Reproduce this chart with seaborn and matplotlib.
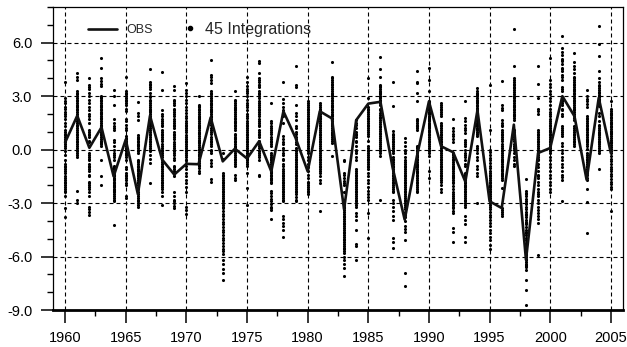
import numpy as np
import pandas as pd
import matplotlib
matplotlib.use("Agg")
import matplotlib.pyplot as plt
from matplotlib.ticker import MultipleLocator, FixedLocator
from matplotlib.lines import Line2D
import seaborn as sns

years = list(range(1960, 2006))
obs = [0.4, 1.9, 0.1, 1.25, -1.5, 0.56, -2.5, 1.9, -0.56, -1.4,
       -0.8, -0.82, 1.8, -0.66, 0.05, -0.5, 0.47, -1.22, 2.15, 0.66,
       -1.22, 2.15, 1.75, -3.35, 1.65, 2.58, 2.68, -1.0, -3.93, -0.4,
       2.7, 0.19, -0.15, -1.8, 2.2, -2.9, -3.28, 1.4, -6.18, -0.19,
       0.09, 3.0, 1.87, -1.69, 2.9, -0.19]

m1960 = [3.8, 2.9, 2.7, 2.6, 2.4, 2.3, 2.1, 2.0, 1.9, 1.7, 1.5, 1.3, 1.1, 1.0, 0.9, 0.8, 0.7, 0.6, 0.5, 0.4, 0.3, 0.2, 0.1, -0.1, -0.3, -0.6, -0.8, -0.9, -1.0, -1.1, -1.2, -1.3, -1.5, -1.6, -1.7, -1.8, -1.9, -2.0, -2.1, -2.2, -2.3, -2.4, -2.6, -3.3, -3.8]
m1961 = [4.3, 4.1, 3.9, 3.3, 3.2, 3.1, 3.0, 2.9, 2.8, 2.7, 2.6, 2.5, 2.4, 2.3, 2.2, 2.1, 2.0, 1.9, 1.8, 1.7, 1.6, 1.5, 1.4, 1.3, 1.2, 1.1, 1.0, 0.9, 0.8, 0.7, 0.6, 0.5, 0.4, 0.3, 0.2, 0.1, 0.0, -0.1, -0.2, -0.3, -0.4, -2.3, -2.8, -3.0, 2.45]
m1962 = [4.0, 3.6, 3.4, 3.2, 3.0, 2.8, 2.4, 2.2, 2.0, 1.9, 1.7, 1.5, 1.1, 1.0, 0.8, 0.7, 0.5, 0.4, 0.2, -0.2, -0.3, -0.5, -0.6, -0.8, -0.9, -1.1, -1.2, -1.4, -1.5, -1.8, -1.9, -2.1, -2.2, -2.4, -2.6, -3.2, -3.35, -3.5, -3.65, 3.5, 2.6, 0.9, -0.4, -1.0, -2.0]
m1963 = [5.15, 4.6, 4.0, 3.85, 3.7, 3.55, 3.0, 2.9, 2.8, 2.7, 2.6, 2.5, 2.4, 2.3, 2.2, 2.1, 2.0, 1.9, 1.8, 1.7, 1.6, 1.5, 1.4, 1.3, 1.2, 1.1, 1.0, 0.9, 0.8, 0.7, 0.6, 0.5, 0.4, 0.3, 0.2, -0.56, -1.5, -1.97, 2.95, 2.45, 2.05, 1.75, 1.35, 0.85, 0.35]
m1964 = [3.35, 3.0, 2.5, 1.7, 1.5, 1.3, 1.1, 0.56, 0.4, 0.2, 0.0, -0.2, -0.4, -0.56, -0.94, -1.0, -1.1, -1.2, -1.3, -1.4, -1.5, -1.6, -1.7, -1.8, -1.9, -2.0, -2.1, -2.2, -2.3, -2.4, -2.5, -2.6, -2.7, -2.8, -2.9, -4.25, -1.05, -1.25, -1.45, -1.65, -1.85, -2.05, -2.25, 1.2, -0.3]
m1965 = [4.08, 3.3, 3.2, 3.0, 2.9, 2.7, 2.6, 2.5, 2.3, 2.15, 1.7, 1.6, 1.4, 1.2, 1.1, 0.75, 0.6, 0.5, 0.4, 0.3, 0.2, 0.1, 0.0, -0.1, -0.2, -0.3, -0.4, -0.56, -1.0, -1.1, -1.3, -1.4, -1.6, -1.7, -1.9, -2.0, -2.6, -2.7, 3.1, 2.8, 0.65, 0.35, 0.05, -0.25, -1.5]
m1966 = [2.65, 2.06, 1.9, 1.68, 0.84, 0.7, 0.6, 0.5, 0.4, 0.3, 0.2, 0.1, 0.0, -0.1, -0.2, -0.56, -0.7, -0.8, -0.9, -1.0, -1.1, -1.2, -1.3, -1.4, -1.5, -1.6, -1.7, -1.8, -1.9, -2.0, -2.4, -2.5, -2.6, -2.7, -2.8, -2.9, -3.0, -3.1, -3.2, 0.65, 0.25, -0.65, -1.15, -1.45, -2.2]
m1967 = [4.55, 3.8, 3.7, 3.5, 3.4, 3.2, 3.0, 2.8, 2.7, 2.6, 2.5, 2.4, 2.3, 2.2, 2.1, 2.0, 1.9, 1.8, 1.7, 1.6, 1.5, 1.4, 1.3, 1.2, 1.1, 1.0, 0.9, 0.8, 0.7, 0.6, 0.5, 0.4, 0.3, 0.2, 0.1, 0.0, -0.1, -0.3, -0.5, -0.75, -1.9, 3.6, 2.95, 2.15, 1.45]
m1968 = [4.36, 3.37, 2.2, 2.0, 1.9, 1.7, 1.6, 1.4, 1.3, 1.1, 1.0, 0.9, 0.7, 0.6, 0.5, 0.3, 0.2, 0.1, -0.1, -0.2, -0.56, -0.7, -0.8, -0.9, -1.0, -1.1, -1.2, -1.3, -1.4, -1.5, -1.6, -1.7, -1.8, -1.9, -2.0, -2.2, -2.4, -2.6, -3.13, 1.5, 0.8, 0.0, -0.3, -0.4, -2.1]
m1969 = [3.56, 3.37, 2.8, 2.6, 2.5, 2.3, 2.2, 2.0, 1.9, 1.7, 1.6, 1.5, 1.3, 1.2, 1.0, 0.9, 0.7, 0.6, 0.4, 0.3, 0.1, 0.0, -0.2, -0.3, -0.45, -0.56, -0.94, -1.1, -1.2, -1.35, -1.5, -2.4, -2.6, -2.8, -3.0, -3.15, -3.3, 2.7, 2.1, 1.4, 0.8, 0.2, -0.1, -1.0, -2.9]
m1970 = [3.74, 3.37, 3.2, 3.0, 2.8, 2.6, 2.4, 2.2, 2.06, 1.9, 1.8, 1.6, 1.5, 1.4, 1.2, 1.1, 1.0, 0.8, 0.7, 0.6, 0.5, 0.3, 0.2, 0.1, 0.0, -0.1, -0.2, -0.3, -0.4, -0.56, -0.75, -0.9, -1.1, -1.3, -1.5, -1.7, -1.9, -2.1, -2.4, -3.2, -3.4, -3.6, 1.3, 0.4, -0.6]
m1971 = [3.0, 2.5, 2.4, 2.3, 2.2, 2.1, 2.0, 1.9, 1.8, 1.7, 1.6, 1.5, 1.4, 1.3, 1.2, 1.1, 1.0, 0.94, 0.85, 0.75, 0.65, 0.55, 0.45, 0.35, 0.25, 0.15, 0.05, -0.05, -0.15, -0.25, -0.35, -0.45, -0.55, -0.65, -0.75, -0.85, -0.94, -1.05, -1.2, -1.3, 2.45, 1.85, 1.25, 0.5, -0.3]
m1972 = [5.05, 4.2, 4.05, 3.9, 3.74, 3.3, 3.2, 3.1, 2.9, 2.8, 2.7, 2.6, 2.5, 2.4, 2.3, 2.2, 2.1, 2.0, 1.9, 1.7, 1.5, 1.4, 1.2, 1.0, 0.9, 0.7, 0.5, 0.4, 0.2, 0.0, -0.2, -0.56, -0.75, -0.94, -1.65, -1.8, 3.0, 2.55, 2.15, 1.6, 1.1, 0.6, 0.3, -0.1, 1.85]
m1973 = [-0.2, -0.5, -1.3, -1.4, -1.5, -1.6, -1.7, -1.8, -1.9, -2.0, -2.1, -2.2, -2.3, -2.4, -2.5, -2.6, -2.7, -2.8, -2.9, -3.0, -3.1, -3.2, -3.3, -3.45, -3.6, -3.75, -3.9, -4.05, -4.2, -4.35, -4.5, -4.65, -4.8, -4.95, -5.1, -5.25, -5.4, -5.55, -5.7, -5.85, -6.2, -6.4, -6.7, -6.9, -7.3]
m1974 = [3.3, 2.8, 2.7, 2.6, 2.5, 2.4, 2.3, 2.2, 2.1, 2.0, 1.9, 1.8, 1.7, 1.6, 1.5, 1.4, 1.3, 1.2, 1.1, 0.9, 0.8, 0.7, 0.6, 0.5, 0.4, 0.3, 0.2, 0.1, 0.0, -0.1, -0.2, -0.3, -0.4, -0.5, -0.6, -0.7, -0.8, -0.94, -1.4, -1.6, -1.7, 2.35, 1.55, 0.65, 0.15]
m1975 = [4.1, 3.8, 3.56, 3.4, 3.2, 3.0, 2.8, 2.6, 2.4, 2.2, 2.0, 1.8, 1.6, 1.4, 1.3, 1.2, 1.1, 1.0, 0.9, 0.8, 0.7, 0.6, 0.5, 0.4, 0.3, 0.2, 0.1, 0.0, -0.1, -0.2, -0.3, -0.4, -0.5, -0.6, -0.7, -0.8, -0.94, -1.3, -2.15, -3.1, 3.3, 2.5, 1.9, 1.5, -0.45]
m1976 = [4.96, 4.85, 4.3, 3.9, 3.8, 3.6, 3.5, 3.3, 3.2, 3.0, 2.9, 2.7, 2.6, 2.4, 2.3, 2.1, 2.0, 1.9, 1.7, 1.6, 1.4, 1.3, 1.1, 1.0, 0.8, 0.7, 0.5, 0.4, 0.2, 0.1, -0.1, -0.2, -0.4, -0.56, -1.4, -1.5, 3.65, 3.1, 2.5, 2.2, 1.5, 0.9, 0.3, -0.3, 4.0]
m1977 = [2.6, 1.6, 1.5, 1.3, 1.2, 1.0, 0.9, 0.7, 0.6, 0.4, 0.3, 0.2, -0.2, -0.3, -0.4, -0.5, -0.6, -0.7, -0.8, -0.9, -1.0, -1.1, -1.2, -1.3, -1.4, -1.5, -1.6, -1.7, -1.8, -1.9, -2.3, -2.45, -2.6, -2.75, -2.9, -3.05, -3.2, -3.3, -3.4, -3.9, 1.1, 0.5, -0.55, -1.25, -1.65]
m1978 = [3.8, 2.84, 2.6, 2.4, 2.2, 2.0, 1.9, 0.75, 0.6, 0.4, 0.3, 0.1, 0.0, -0.2, -0.3, -0.5, -0.6, -0.8, -0.9, -1.1, -1.2, -1.3, -1.4, -1.5, -1.6, -1.7, -1.8, -1.9, -2.0, -2.1, -2.2, -2.3, -2.4, -2.5, -2.6, -2.7, -2.8, -2.9, -3.75, -3.9, -4.1, -4.3, -4.5, -4.9, 1.5]
m1979 = [4.7, 3.65, 3.5, 2.5, 2.06, 1.9, 1.68, 1.3, 1.2, 1.0, 0.9, 0.7, 0.6, 0.4, 0.3, 0.1, 0.0, -0.1, -0.2, -0.3, -0.4, -0.5, -0.6, -0.7, -0.8, -0.9, -1.0, -1.1, -1.2, -1.3, -1.4, -1.5, -1.6, -1.7, -1.8, -1.9, -2.0, -2.1, -2.2, -2.3, -2.4, -2.5, -2.65, -2.8, -2.9]
m1980 = [2.7, 2.6, 2.5, 2.4, 2.3, 2.2, 2.1, 2.0, 1.9, 1.8, 1.7, 1.6, 1.5, 1.4, 1.3, 1.2, 1.1, 1.0, 0.94, 0.8, 0.7, 0.6, 0.5, 0.4, 0.3, 0.2, 0.1, 0.0, -0.1, -0.2, -0.4, -0.6, -0.8, -1.0, -1.2, -1.4, -1.6, -1.8, -1.9, -2.0, -2.1, -2.2, -2.3, -2.4, -2.5]
m1981 = [2.6, 2.5, 2.4, 2.3, 2.2, 2.1, 2.0, 1.9, 1.8, 1.7, 1.6, 1.5, 1.4, 1.3, 1.2, 1.1, 1.0, 0.9, 0.8, 0.7, 0.6, 0.5, 0.4, 0.3, 0.2, 0.1, 0.0, -0.1, -0.2, -0.3, -0.4, -0.5, -0.6, -0.7, -0.8, -0.9, -1.0, -1.1, -1.2, -1.3, -1.5, -1.7, -1.85, -3.46, 1.75]
m1982 = [4.9, 4.1, 4.0, 3.9, 3.8, 3.7, 3.6, 3.5, 3.4, 3.3, 3.2, 3.1, 3.0, 2.9, 2.8, 2.7, 2.6, 2.5, 2.4, 2.3, 2.2, 2.1, 2.0, 1.9, 1.8, 1.7, 1.6, 1.5, 1.4, 1.3, 1.2, 1.1, 1.0, 0.9, 0.8, 0.7, 0.6, 0.5, 0.37, -0.37, 3.05, 2.45, 1.95, 1.45, 0.95]
m1983 = [-0.56, -0.66, -1.3, -1.45, -1.6, -1.75, -1.9, -2.8, -2.9, -3.0, -3.1, -3.2, -3.3, -3.4, -3.5, -3.6, -3.7, -3.8, -3.9, -4.0, -4.1, -4.2, -4.3, -4.4, -4.5, -4.6, -4.7, -4.8, -4.9, -5.0, -5.1, -5.2, -5.3, -5.4, -5.5, -5.6, -5.7, -5.8, -6.0, -6.2, -6.4, -6.65, -7.1, -2.4, -2.0]
m1984 = [1.68, 1.5, 1.4, 1.2, 1.0, 0.9, 0.7, 0.5, 0.4, 0.2, 0.0, -0.2, -0.4, -0.56, -1.1, -1.2, -1.3, -1.4, -1.5, -1.6, -1.7, -1.8, -1.9, -2.0, -2.1, -2.2, -2.3, -2.4, -2.5, -2.6, -2.7, -2.8, -2.9, -3.0, -3.1, -3.2, -3.56, -3.75, -3.93, -4.5, -5.3, -5.43, -6.2, 0.8, -0.1]
m1985 = [4.0, 2.9, 2.4, 2.3, 2.2, 2.1, 2.0, 1.9, 1.8, 1.7, 1.6, 1.5, 1.4, 1.3, 1.2, 1.1, 1.0, 0.9, 0.75, 0.2, 0.1, 0.0, -0.1, -0.2, -0.3, -0.4, -0.5, -0.6, -0.7, -0.8, -0.9, -1.0, -1.1, -1.5, -1.7, -1.9, -2.1, -2.3, -2.5, -2.65, -2.8, -3.56, -4.96, 0.5, -1.3]
m1986 = [5.2, 4.5, 4.1, 3.65, 3.5, 3.4, 3.3, 3.2, 3.1, 3.0, 2.9, 2.8, 2.7, 2.6, 2.06, 1.95, 1.85, 1.75, 1.65, 1.55, 1.45, 1.35, 1.25, 1.15, 1.05, 0.95, 0.85, 0.75, 0.65, 0.56, 0.3, 0.2, 0.1, 0.0, -0.1, -0.2, -0.37, -2.8, 2.5, 2.3, 2.2, 3.55, 3.25, 2.95, 0.45]
m1987 = [3.8, 2.43, 1.03, 0.9, 0.8, 0.7, 0.6, 0.5, 0.4, 0.3, 0.2, 0.1, 0.0, -0.2, -0.4, -0.5, -0.6, -0.7, -0.8, -0.9, -1.0, -1.1, -1.2, -1.3, -1.4, -1.5, -1.6, -1.7, -1.8, -1.9, -2.0, -2.1, -2.2, -2.4, -2.8, -3.0, -3.2, -3.45, -3.7, -3.93, -4.96, -5.2, -5.5, -0.1, -2.3]
m1988 = [0.66, 0.4, 0.2, 0.0, -0.2, -0.4, -0.56, -0.7, -0.8, -0.9, -1.0, -1.1, -1.2, -1.3, -1.4, -1.5, -1.6, -1.7, -1.8, -1.9, -2.0, -2.1, -2.2, -2.3, -2.4, -2.5, -2.6, -2.7, -2.8, -2.9, -3.0, -3.1, -3.2, -3.35, -3.5, -3.65, -3.8, -4.0, -4.3, -4.45, -4.6, -5.1, -6.9, -7.68, -0.1]
m1989 = [4.4, 3.8, 3.2, 2.7, 1.7, 1.6, 1.5, 1.4, 1.3, 1.2, 1.1, 0.2, 0.1, 0.0, -0.1, -0.2, -0.3, -0.4, -0.5, -0.6, -0.7, -0.8, -0.9, -1.0, -1.1, -1.2, -1.3, -1.4, -1.5, -1.6, -1.7, -1.8, -1.9, -2.0, -2.1, -2.2, -2.3, -2.4, 3.75, 1.65, 1.35, 0.15, -0.35, -0.85, -1.25]
m1990 = [4.6, 3.9, 3.3, 2.7, 2.6, 2.5, 2.4, 2.3, 2.2, 2.1, 2.0, 1.9, 1.8, 1.7, 1.6, 1.5, 1.4, 1.3, 1.2, 1.1, 1.0, 0.9, 0.8, 0.7, 0.6, 0.5, 0.4, 0.3, 0.2, 0.1, 0.0, -0.1, -0.2, -0.37, -1.2, -1.6, 2.65, 2.45, 2.25, 2.05, 1.85, 1.65, 1.45, 1.25, 1.05]
m1991 = [2.6, 2.5, 2.4, 2.3, 2.2, 2.1, 2.0, 1.9, 1.5, 1.4, 1.3, 1.2, 1.1, 1.0, 0.9, 0.8, 0.7, 0.6, 0.5, 0.4, 0.3, 0.2, 0.1, 0.0, -0.1, -0.2, -0.3, -0.4, -0.5, -0.6, -0.7, -0.8, -0.9, -1.0, -1.1, -1.2, -1.3, -1.4, -1.5, -1.6, -1.7, -1.8, -2.0, -2.2, -2.4]
m1992 = [1.7, 1.2, 1.05, 0.9, 0.75, 0.6, 0.4, -0.2, -0.3, -0.4, -0.5, -0.6, -0.7, -0.8, -0.9, -1.0, -1.1, -1.2, -1.3, -1.4, -1.5, -1.6, -1.7, -1.8, -1.9, -2.06, -2.4, -2.5, -2.6, -2.7, -2.8, -2.9, -3.0, -3.1, -3.2, -3.3, -3.45, -3.56, -4.4, -4.6, -5.2, -0.25, -1.05, -1.55, -2.2]
m1993 = [2.7, 1.8, 1.6, 1.4, 1.2, 0.94, 0.56, 0.4, 0.2, 0.0, -0.2, -0.4, -0.6, -0.8, -0.94, -1.3, -1.4, -1.5, -1.6, -1.7, -1.8, -1.9, -2.0, -2.1, -2.2, -2.3, -2.4, -2.5, -2.6, -2.7, -2.8, -2.9, -3.0, -3.1, -3.2, -3.75, -3.93, -4.2, -4.9, -5.2, 1.1, 0.3, -0.3, -1.45, -2.05]
m1994 = [3.46, 3.3, 3.2, 3.1, 3.0, 2.9, 2.8, 2.7, 2.6, 2.5, 2.43, 2.35, 2.25, 2.15, 2.05, 1.95, 1.85, 1.75, 1.6, 1.5, 1.4, 1.3, 1.2, 1.1, 1.0, 0.9, 0.75, 0.2, 0.0, -0.2, -0.4, -0.56, -0.94, -1.1, -1.3, -1.5, -3.0, 3.05, 2.65, 2.2, 1.9, 1.45, 1.15, 0.85, 0.1]
m1995 = [3.65, 1.12, 0.0, -0.15, -0.3, -0.45, -0.6, -0.75, -0.9, -1.05, -1.2, -1.3, -1.4, -1.5, -1.6, -1.7, -1.8, -1.9, -2.0, -2.1, -2.2, -2.3, -2.4, -2.5, -2.6, -2.7, -2.8, -2.9, -3.0, -3.1, -3.2, -3.35, -3.5, -3.65, -3.8, -3.95, -4.1, -4.3, -4.5, -4.7, -4.9, -5.1, -5.35, -5.6, -2.05]
m1996 = [3.87, 2.5, 2.35, 2.2, 1.68, 1.5, 1.4, 1.3, 1.1, 1.0, 0.9, 0.7, 0.6, 0.5, 0.3, 0.2, 0.1, -0.1, -0.2, -0.3, -0.4, -0.5, -0.6, -0.7, -0.8, -0.9, -1.0, -1.1, -1.2, -1.3, -1.4, -1.5, -1.6, -1.7, -2.15, -3.3, -3.4, -3.5, -3.6, -3.75, 0.8, 0.0, -0.65, -1.15, -1.35]
m1997 = [6.74, 4.7, 4.0, 3.9, 3.8, 3.7, 3.6, 3.5, 3.37, 3.25, 3.1, 3.0, 2.9, 2.8, 2.7, 2.6, 2.5, 2.4, 2.3, 2.2, 2.1, 2.0, 1.9, 1.8, 1.68, 1.1, 1.0, 0.9, 0.8, 0.6, 0.5, 0.3, 0.2, 0.0, -0.2, -0.4, -0.6, -0.8, -0.94, 3.45, 2.95, 2.45, 1.95, 0.7, 0.1]
m1998 = [-1.65, -2.3, -2.45, -2.6, -2.75, -2.9, -3.05, -3.2, -3.35, -3.5, -3.65, -3.8, -3.93, -4.05, -4.2, -4.35, -4.5, -4.65, -4.8, -4.95, -5.1, -5.25, -5.4, -5.55, -5.7, -5.85, -6.0, -6.15, -6.3, -6.45, -6.6, -6.75, -7.3, -7.9, -8.7, -2.5, -3.0, -3.6, -4.1, -4.7, -5.3, -5.9, -6.2, -6.4, -6.55]
m1999 = [4.7, 3.7, 2.9, 2.3, 2.15, 2.0, 1.1, 1.0, 0.9, 0.8, 0.7, 0.6, 0.5, 0.4, 0.3, 0.2, 0.1, 0.0, -0.1, -0.2, -0.3, -0.4, -0.6, -0.8, -1.0, -1.2, -1.4, -1.6, -1.8, -2.0, -2.2, -2.4, -2.6, -2.8, -3.0, -3.2, -3.4, -3.56, -3.75, -3.9, -4.1, -5.9, -0.5, -1.5, -2.5]
m2000 = [5.15, 3.9, 3.7, 3.5, 3.3, 3.1, 2.9, 2.7, 2.5, 2.3, 2.1, 1.9, 1.7, 1.6, 1.5, 1.4, 1.3, 1.2, 1.1, 1.0, 0.9, 0.8, 0.7, 0.6, 0.5, 0.4, 0.3, 0.2, 0.1, 0.0, -0.1, -0.2, -0.4, -0.6, -0.8, -1.0, -1.2, -1.4, -1.6, -1.8, -2.0, -2.2, -2.4, 2.0, 1.05]
m2001 = [6.4, 5.7, 5.5, 5.3, 5.1, 4.95, 4.8, 4.6, 4.4, 4.2, 4.05, 3.9, 3.5, 3.4, 3.3, 2.9, 2.8, 2.6, 2.5, 2.3, 2.2, 2.0, 1.9, 1.3, 1.2, 1.0, 0.9, 0.75, 0.37, 0.2, 0.0, -0.2, -0.4, -0.6, -0.8, -1.0, -1.2, -1.4, -1.55, -1.7, -2.9, 5.0, 4.5, 2.7, 1.1]
m2002 = [5.4, 4.9, 4.7, 4.5, 4.3, 4.1, 4.0, 3.9, 3.8, 3.7, 3.6, 3.5, 3.4, 3.3, 3.2, 3.1, 3.0, 2.9, 2.8, 2.7, 2.6, 2.5, 2.4, 2.3, 2.2, 2.1, 2.0, 1.9, 1.8, 1.68, 1.3, 1.2, 1.1, 1.0, 0.9, 0.8, 0.7, 0.6, 0.5, 0.4, 0.3, 0.2, 2.25, 2.75, 3.35]
m2003 = [3.37, 3.0, 2.85, 2.7, 2.55, 2.4, 1.9, 1.8, 1.7, 1.6, 1.5, 1.4, 1.3, 1.2, 1.1, 1.0, 0.9, 0.8, 0.7, 0.6, 0.5, 0.4, 0.3, 0.2, -0.2, -0.3, -0.4, -0.5, -0.6, -0.7, -0.8, -0.9, -1.0, -1.1, -1.2, -1.3, -1.45, -1.6, -1.7, -2.2, -2.96, -4.7, 0.05, 1.15, 0.55]
m2004 = [6.96, 5.95, 5.24, 4.4, 3.8, 3.56, 3.45, 3.35, 3.25, 3.15, 3.05, 2.95, 2.85, 2.75, 2.65, 2.55, 2.43, 2.06, 1.3, 1.2, 1.1, 1.0, 0.9, 0.8, 0.7, 0.6, 0.5, 0.4, 0.3, 0.2, 0.1, 0.0, -0.1, -0.2, -1.1, 3.0, 2.8, 2.6, 1.9, 1.6, 1.4, 0.95, 0.45, 4.0, 3.6]
m2005 = [2.7, 2.25, 2.15, 2.05, 1.95, 1.85, 1.75, 1.65, 1.55, 1.45, 1.35, 1.25, 1.15, 1.05, 0.95, 0.85, 0.75, 0.65, 0.55, 0.45, 0.35, 0.25, 0.15, 0.05, -0.1, -0.2, -0.35, -0.5, -0.65, -0.8, -0.95, -1.1, -1.2, -1.35, -1.5, -1.65, -1.8, -1.95, -2.1, -2.2, -3.46, 2.0, 1.5, 1.0, 0.4]

members = [m1960, m1961, m1962, m1963, m1964, m1965, m1966, m1967, m1968, m1969,
           m1970, m1971, m1972, m1973, m1974, m1975, m1976, m1977, m1978, m1979,
           m1980, m1981, m1982, m1983, m1984, m1985, m1986, m1987, m1988, m1989,
           m1990, m1991, m1992, m1993, m1994, m1995, m1996, m1997, m1998, m1999,
           m2000, m2001, m2002, m2003, m2004, m2005]

ytick_vals = [-9, -6, -3, 0, 3, 6]
ytick_labels = ["-9.0", "-6.0", "-3.0", "0.0", "3.0", "6.0"]
xtick_vals = [1960, 1965, 1970, 1975, 1980, 1985, 1990, 1995, 2000, 2005]

ens_df = pd.DataFrame({
    "year": [y for y, vals in zip(years, members) for _ in vals],
    "value": [v for vals in members for v in vals],
})
obs_df = pd.DataFrame({"year": years, "value": obs})

sns.set_style("white")
plt.rcParams["font.family"] = ["Liberation Sans", "DejaVu Sans"]

fig = plt.figure(figsize=(6.27, 3.47), dpi=100)
ax = fig.add_axes([0.0845, 0.1066, 0.9091, 0.8732])

sns.scatterplot(data=ens_df, x="year", y="value", ax=ax, color="black", s=5,
                linewidth=0, zorder=3, legend=False)
sns.lineplot(data=obs_df, x="year", y="value", ax=ax, color="#111111", lw=1.9,
             zorder=4, legend=False)

ax.set_xlim(1959, 2006)
ax.set_ylim(-9, 8)
ax.set_xlabel("")
ax.set_ylabel("")

ax.yaxis.set_major_locator(FixedLocator(ytick_vals))
ax.set_yticklabels(ytick_labels)
ax.yaxis.set_minor_locator(MultipleLocator(1))
ax.xaxis.set_major_locator(FixedLocator(xtick_vals))
ax.set_xticklabels([str(v) for v in xtick_vals])
ax.xaxis.set_minor_locator(MultipleLocator(2.5))

ax.tick_params(axis="both", which="major", direction="out", length=9, width=1.1,
               labelsize=10.5, pad=6, color="black", labelcolor="black")
ax.tick_params(axis="both", which="minor", direction="out", length=4.5, width=1.0, color="black")
ax.tick_params(left=True, bottom=True, top=False, right=False, which="both")

for s in ["top", "right", "left"]:
    ax.spines[s].set_visible(True)
    ax.spines[s].set_color("black")
    ax.spines[s].set_linewidth(0.9)
ax.spines["bottom"].set_color("black")
ax.spines["bottom"].set_linewidth(2.0)

ax.grid(True, which="major", axis="both", color="black", linestyle=(0, (3.6, 2.7)), linewidth=0.8)
ax.set_axisbelow(True)

h_obs = Line2D([], [], color="#111111", lw=1.9)
h_ens = Line2D([], [], color="black", marker="o", markersize=3, linestyle="none")
leg1 = ax.legend([h_obs], ["OBS"], loc="center left", bbox_to_anchor=(0.061, 0.924),
                 frameon=False, fontsize=9, handlelength=2.3, handletextpad=0.75,
                 borderpad=0, borderaxespad=0)
ax.add_artist(leg1)
leg2 = ax.legend([h_ens], ["45 Integrations"], loc="center left", bbox_to_anchor=(0.229, 0.927),
                 frameon=False, fontsize=11.5, handlelength=0.8, handletextpad=0.54,
                 borderpad=0, borderaxespad=0)

fig.savefig("out.png", dpi=100)
